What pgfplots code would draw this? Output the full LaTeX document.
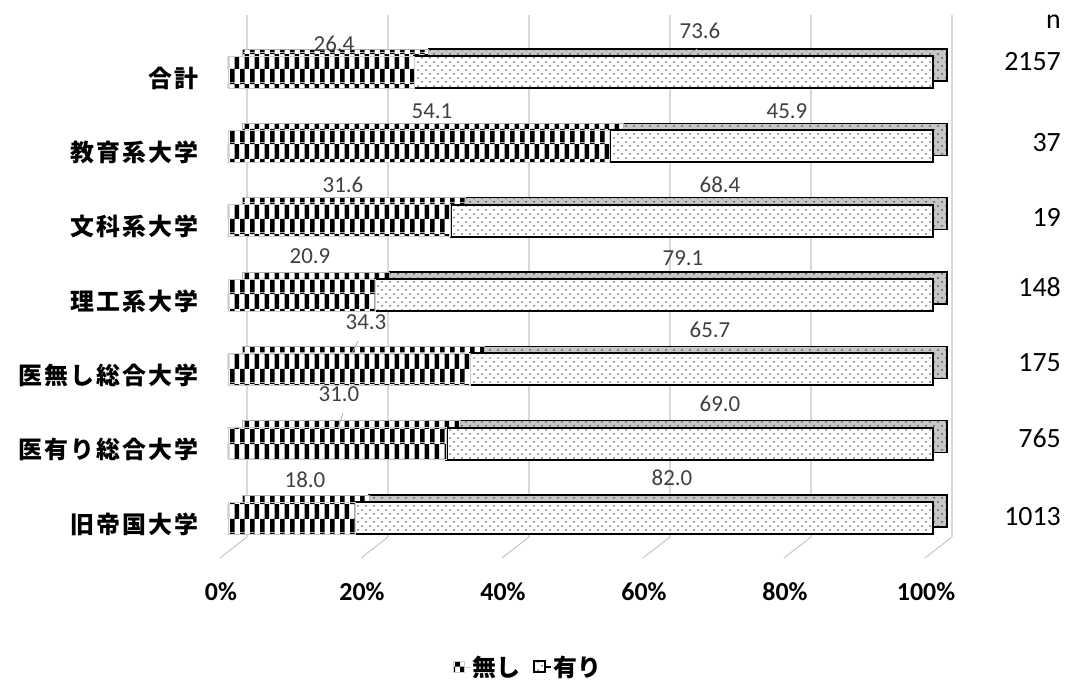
\documentclass[border=0pt]{standalone}
\usepackage{pgfplots}
\pgfplotsset{compat=1.18}
\usepackage{pgfplotstable}
\usetikzlibrary{patterns}
\usepackage{fontspec}
\setmainfont{Carlito}
\newfontfamily\jp{Noto Sans CJK JP}[LetterSpace=9]
\newfontfamily\jpleg{Noto Sans CJK JP}

\definecolor{lbl}{HTML}{404040}
\definecolor{gridc}{HTML}{D9D9D9}

% checkerboard for "none" (two rows per bar), sparse dots for "yes"
\pgfdeclarepatternformonly{checker}{\pgfpointorigin}{\pgfpoint{10bp}{29.732bp}}{\pgfpoint{10bp}{29.732bp}}{%
  \pgfpathrectangle{\pgfpointorigin}{\pgfpoint{5bp}{13.34bp}}%
  \pgfpathrectangle{\pgfpoint{5bp}{13.34bp}}{\pgfpoint{5bp}{14.866bp}}%
  \pgfpathrectangle{\pgfpoint{0bp}{28.206bp}}{\pgfpoint{5bp}{1.526bp}}%
  \pgfusepath{fill}}
\pgfdeclarepatternformonly{dotgrid}{\pgfpoint{-1bp}{-1bp}}{\pgfpoint{8bp}{8bp}}{\pgfpoint{8bp}{8bp}}{%
  \pgfpathcircle{\pgfpoint{2bp}{2bp}}{0.8bp}%
  \pgfpathrectangle{\pgfpoint{5.0bp}{5.6bp}}{\pgfpoint{2bp}{0.9bp}}%
  \pgfusepath{fill}}

\tikzset{
  vl/.style={font=\fontsize{23}{27}\selectfont, text=lbl, inner sep=0pt},
  nl/.style={font=\fontsize{28}{33}\selectfont, anchor=east, inner sep=0pt},
}

% share of universities without / with the item, by type
\pgfplotstableread{
idx none yes n
0 18.0 82.0 1013
1 31.0 69.0 765
2 34.3 65.7 175
3 20.9 79.1 148
4 31.6 68.4 19
5 54.1 45.9 37
6 26.4 73.6 2157
}\data

\begin{document}
\begin{tikzpicture}
\useasboundingbox (-228bp,-120bp) rectangle (837bp,560bp);
\pgfplotsset{base/.style={width=705bp, height=545bp, scale only axis,
  xmin=0, xmax=100, ymin=-0.565, ymax=6.767, xbar stacked, bar width=32bp, clip=false}}

% back wall grid and floor
\begin{axis}[base, hide axis]
\pgfplotsinvokeforeach{0,20,40,60,80,100}{
  \draw[gridc, line width=2bp] ([xshift=19bp]axis cs:#1,6.767) -- ([xshift=19bp]axis cs:#1,-0.256);
  \draw[gray!45, line width=1bp] ([xshift=19bp]axis cs:#1,-0.256) -- ([xshift=-8bp]axis cs:#1,-0.538);
}
\end{axis}

% depth of the bars (top and end faces)
\begin{axis}[base, hide axis, xshift=14bp, yshift=7bp]
\addplot[draw=gray!60, preaction={fill=white}, pattern=checker] table[x=none,y=idx]{\data};
\addplot[draw=black, line width=1.2bp, preaction={fill=gray!45}, pattern=dotgrid, pattern color=black!75] table[x=yes,y=idx]{\data};
\end{axis}

% front faces, labels
\begin{axis}[base,
  axis line style={draw=none}, tick style={draw=none}, major tick length=0pt,
  xtick={0,20,40,60,80,100},
  xticklabels={0\%,20\%,40\%,60\%,80\%,100\%},
  xticklabel style={font=\fontsize{26}{30}\selectfont\bfseries, inner sep=0pt, anchor=north, yshift=-22bp, xshift=-7bp},
  ytick={0,1,2,3,4,5,6},
  yticklabels={旧帝国大学,医有り総合大学,医無し総合大学,理工系大学,文科系大学,教育系大学,合計},
  yticklabel style={font=\jp\bfseries\fontsize{24}{28}\selectfont, inner sep=0pt, anchor=east, xshift=-29bp, yshift=-6bp},
  legend style={at={(0.426,-0.196)}, anchor=center, draw=none, legend columns=2,
    font=\jpleg\bfseries\fontsize{24}{28}\selectfont,
    /tikz/every even column/.append style={column sep=10bp}},
  legend image code/.code={\path (0bp,0bp) -- (17bp,0bp);
    \draw[#1] (0bp,-5.5bp) rectangle (11bp,5.5bp);},
]
\addplot[draw=gray!40, line width=0.6bp, preaction={fill=white}, pattern=checker] table[x=none,y=idx]{\data};
\addlegendentry{無し}
\addplot[draw=black, line width=2.2bp, preaction={fill=white}, pattern=dotgrid, pattern color=black!65] table[x=yes,y=idx]{\data};
\addlegendentry{有り}

% value labels
\node[vl] at (axis cs:15.04,6.377) {26.4};
\node[vl] at (axis cs:66.95,6.552) {73.6};
\node[vl] at (axis cs:28.94,5.476) {54.1};
\node[vl] at (axis cs:79.29,5.476) {45.9};
\node[vl] at (axis cs:16.31,4.480) {31.6};
\node[vl] at (axis cs:69.79,4.480) {68.4};
\node[vl] at (axis cs:11.63,3.525) {20.9};
\node[vl] at (axis cs:64.54,3.498) {79.1};
\node[vl] at (axis cs:19.57,2.637) {34.3};
\node[vl] at (axis cs:68.37,2.529) {65.7};
\node[vl] at (axis cs:15.74,1.668) {31.0};
\node[vl] at (axis cs:69.79,1.534) {69.0};
\node[vl] at (axis cs:10.92,0.511) {18.0};
\node[vl] at (axis cs:62.98,0.538) {82.0};
% leader lines
\draw[gray!70, line width=0.8bp] (axis cs:63.12,6.12) -- (axis cs:66.6,6.31);
\draw[gray!70, line width=0.8bp] (axis cs:17.59,2.22) -- (axis cs:18.44,2.38);
\draw[gray!70, line width=0.8bp] (axis cs:15.6,1.21) -- (axis cs:16.31,1.41);

% sample sizes
\node[nl] at (axis cs:118.16,6.673) {n};
\node[nl] at (axis cs:118.16,6.135) {2157};
\node[nl] at (axis cs:118.16,5.045) {37};
\node[nl] at (axis cs:118.16,4.050) {19};
\node[nl] at (axis cs:118.16,3.108) {148};
\node[nl] at (axis cs:118.16,2.085) {175};
\node[nl] at (axis cs:118.16,1.076) {765};
\node[nl] at (axis cs:118.16,0.013) {1013};
\end{axis}
\end{tikzpicture}
\end{document}
